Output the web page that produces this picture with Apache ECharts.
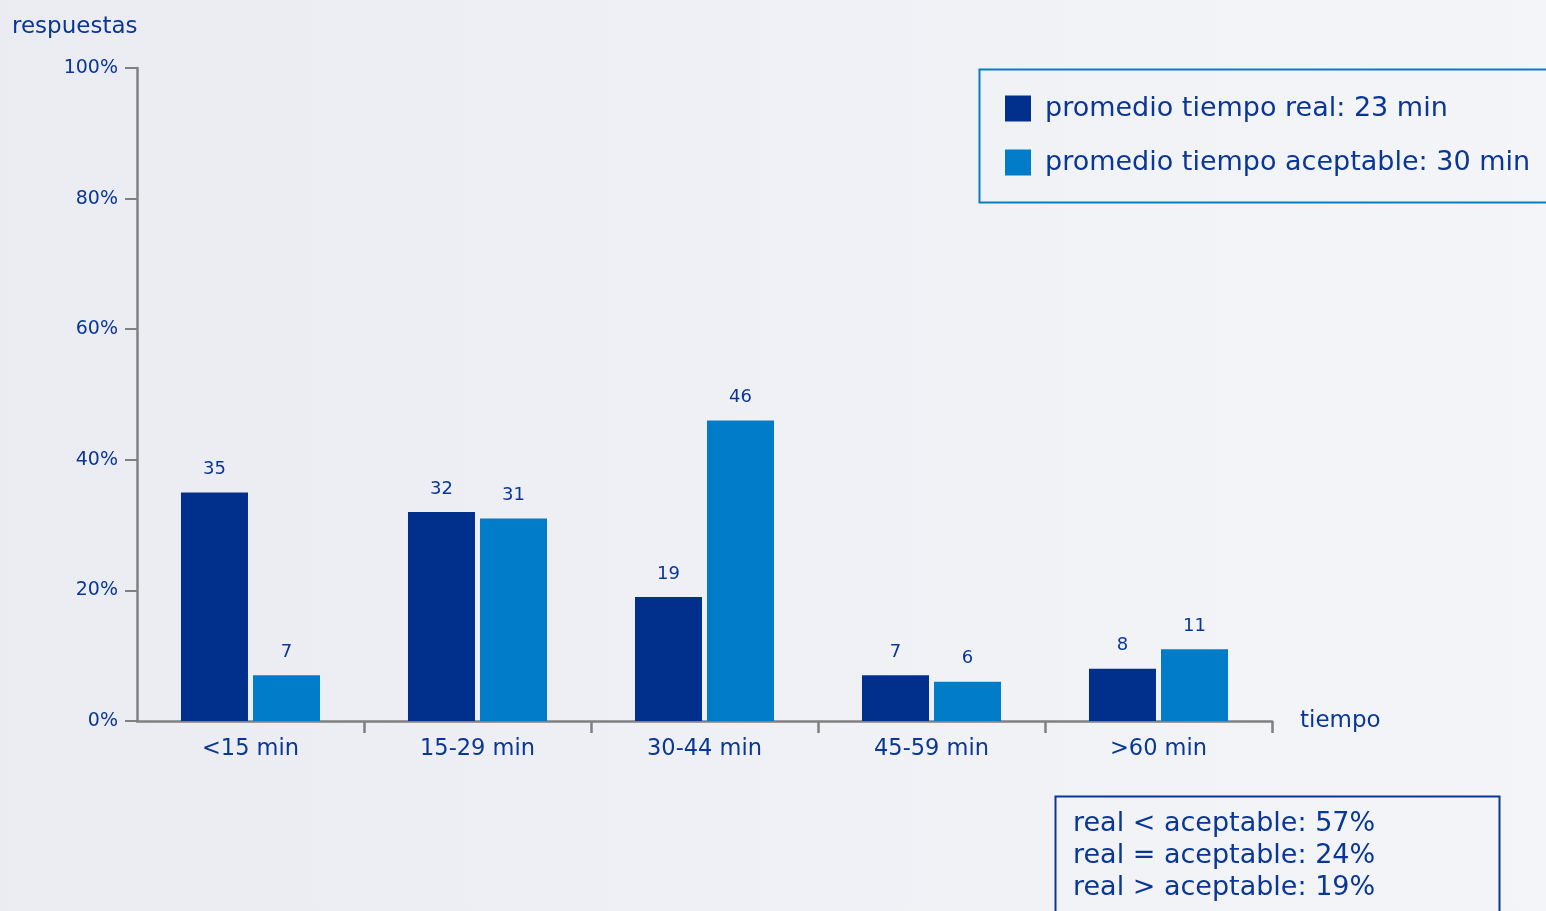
<!DOCTYPE html>
<html><head><meta charset="utf-8">
<script src="https://cdn.jsdelivr.net/npm/echarts@6/dist/echarts.min.js"></script>
<style>html,body{margin:0;padding:0;}#c{width:1546px;height:911px;}</style>
</head><body><div id="c"></div>
<script>
var categories = ['<15 min', '15-29 min', '30-44 min', '45-59 min', '>60 min'];
var realName = 'promedio tiempo real: 23 min';
var aceptName = 'promedio tiempo aceptable: 30 min';
var realValues = [35, 32, 19, 7, 8];
var aceptValues = [7, 31, 46, 6, 11];
var yTicks = [0, 20, 40, 60, 80, 100];
var summaryLines = ['real < aceptable: 57%', 'real = aceptable: 24%', 'real > aceptable: 19%'];

var FONT = '"DejaVu Sans", Verdana, sans-serif';
var TXT = '#0a3796';
var chart = echarts.init(document.getElementById('c'));
chart.setOption({
  backgroundColor: {type:'linear', x:0, y:0, x2:1, y2:0, colorStops:[{offset:0,color:'#EBECF2'},{offset:1,color:'#F4F5F8'}]},
  textStyle: {fontFamily: FONT},
  title: {text:'respuestas', left: 7, top: 11, textStyle:{color:TXT, fontSize:23, fontWeight:'normal', fontFamily:FONT}},
  grid: {left:137, right:274, top:68, bottom:190, containLabel:false},
  legend: {
    orient:'vertical', left:1000, top:90, itemWidth:26, itemHeight:26, itemGap:27,
    icon:'rect', data:[realName, aceptName],
    textStyle:{color:TXT, fontSize:27, fontFamily:FONT, padding:[0,0,0,9]}
  },
  xAxis: {
    type:'category', data:categories,
    name:'tiempo', nameLocation:'end', nameGap:28,
    nameTextStyle:{color:TXT, fontSize:23, fontFamily:FONT, padding:[4,0,0,0]},
    axisLine:{lineStyle:{color:'#808080', width:2.5}},
    axisTick:{show:true, length:12, interval:function(i){return i>0;}, lineStyle:{color:'#808080', width:2.5}},
    axisLabel:{color:TXT, fontSize:22.5, margin:17, fontFamily:FONT, interval:0}
  },
  yAxis: {
    type:'value', min:yTicks[0], max:yTicks[yTicks.length-1], interval:20,
    axisLine:{show:true, lineStyle:{color:'#808080', width:2.5}},
    axisTick:{show:true, length:12, lineStyle:{color:'#808080', width:2}},
    splitLine:{show:false},
    axisLabel:{color:TXT, fontSize:19, margin:19, formatter:'{value}%', fontFamily:FONT}
  },
  series: [
    {name:realName, type:'bar', data:realValues, barWidth:67, barGap:'7.5%', itemStyle:{color:'#00308C'},
     label:{show:true, position:'top', distance:14, color:TXT, fontSize:18, fontFamily:FONT}},
    {name:aceptName, type:'bar', data:aceptValues, barWidth:67, itemStyle:{color:'#007CC8'},
     label:{show:true, position:'top', distance:14, color:TXT, fontSize:18, fontFamily:FONT}}
  ],
  graphic: [
    {type:'rect', left:977, top:67, shape:{width:620, height:133}, style:{fill:'none', stroke:'#0A7CC4', lineWidth:2}, z:-1},
    {type:'rect', left:1053, top:794, shape:{width:444, height:140}, style:{fill:'none', stroke:'#0A3796', lineWidth:2}},
    {type:'text', left:1073, top:808, style:{text:summaryLines.join('\n'), fill:TXT, fontSize:27, lineHeight:32, fontFamily:FONT}}
  ]
});
</script></body></html>
